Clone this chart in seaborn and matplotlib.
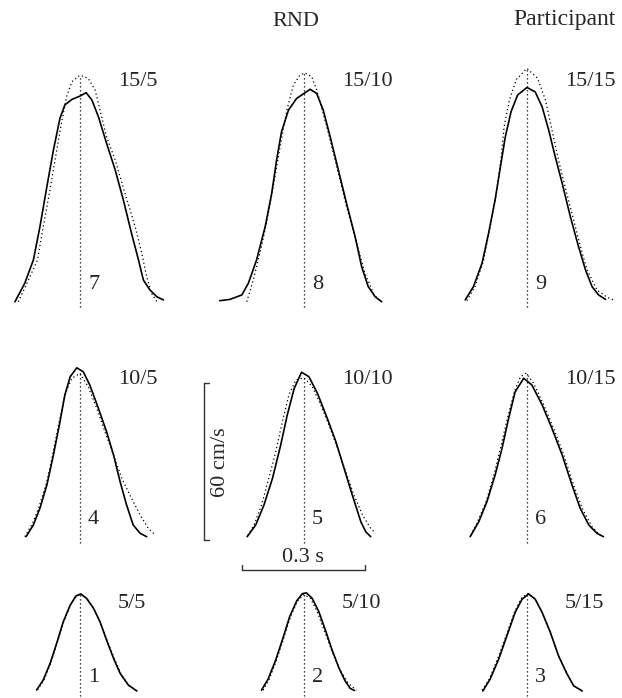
import numpy as np
import pandas as pd
import matplotlib
matplotlib.use("Agg")
import matplotlib.pyplot as plt
import seaborn as sns

# ---------------- data: time (ms, relative to model peak) and speed (cm/s) ----------------
# observed (solid) and model (dotted) velocity profiles, panels 1..9
P1_T_OBS = [-106, -90, -73, -57, -41, -24, -10, 2, 16, 33, 49, 65, 82, 98, 118, 139]
P1_V_OBS = [0.4, 4.2, 10.6, 18.3, 26.5, 32.9, 36.4, 37.2, 35.5, 31.7, 26.5, 19.5, 12.5, 6.8, 2.3, 0.0]
P1_T_MOD = [-104, -88, -72, -56, -40, -23, -8, 3, 18, 34, 50, 67, 84, 100, 120, 138]
P1_V_MOD = [0.4, 4.2, 10.6, 18.3, 26.5, 33.0, 36.5, 37.0, 35.3, 31.5, 26.0, 19.0, 12.5, 6.5, 2.0, 0.2]

P2_T_OBS = [-104, -88, -70, -52, -35, -18, -4, 6, 20, 36, 52, 68, 85, 100, 113, 123]
P2_V_OBS = [0.3, 4.5, 11.5, 20.0, 28.5, 34.5, 37.3, 37.6, 35.5, 30.5, 23.5, 16.0, 9.0, 4.0, 1.0, 0.2]
P2_T_MOD = [-100, -85, -68, -50, -33, -16, 0, 16, 32, 50, 68, 88, 108, 128]
P2_V_MOD = [0.3, 4.5, 11.5, 20.0, 28.5, 34.5, 37.0, 35.5, 30.5, 23.0, 15.5, 8.0, 3.0, 0.3]

P3_T_OBS = [-108, -90, -69, -49, -29, -12, 4, 20, 37, 57, 77, 98, 114, 135]
P3_V_OBS = [0.0, 4.6, 12.3, 21.2, 30.1, 35.2, 37.2, 35.2, 30.1, 22.5, 13.5, 6.5, 2.0, 0.0]
P3_T_MOD = [-110, -92, -72, -51, -31, -14, 2, 20, 37, 57, 77, 98, 114, 135]
P3_V_MOD = [0.3, 4.6, 12.3, 21.2, 30.1, 35.5, 37.4, 35.2, 30.1, 22.5, 13.5, 6.5, 2.0, 0.2]

P4_T_OBS = [-132, -114, -98, -81, -65, -49, -37, -24, -8, 8, 24, 45, 65, 82, 98, 114, 130, 147, 163]
P4_V_OBS = [0.5, 5.0, 11.4, 20.3, 31.8, 44.5, 54.8, 61.8, 65.2, 63.7, 58.6, 49.7, 40.7, 31.8, 21.6, 12.6, 5.0, 1.8, 0.5]
P4_T_MOD = [-135, -116, -100, -81, -67, -51, -37, -20, 0, 20, 41, 61, 82, 102, 126, 147, 167, 184]
P4_V_MOD = [0.5, 5.6, 12.0, 21.6, 31.8, 44.5, 54.8, 61.2, 63.1, 58.0, 49.7, 40.7, 31.8, 22.9, 15.2, 8.8, 3.7, 1.1]

P5_T_OBS = [-139, -118, -98, -77, -57, -41, -24, -6, 12, 33, 57, 78, 98, 118, 139, 151, 163]
P5_V_OBS = [0.5, 5.0, 12.6, 22.9, 35.6, 47.1, 57.3, 63.5, 61.8, 55.4, 45.8, 36.9, 26.7, 16.5, 6.2, 2.4, 0.5]
P5_T_MOD = [-137, -122, -104, -86, -69, -53, -37, -20, 0, 20, 41, 61, 82, 102, 122, 143, 163, 175]
P5_V_MOD = [1.1, 5.0, 12.6, 22.9, 33.1, 44.5, 54.8, 60.5, 61.4, 58.0, 51.0, 43.3, 34.4, 25.4, 16.5, 8.8, 3.7, 1.8]

P6_T_OBS = [-139, -118, -98, -78, -61, -45, -29, -8, 12, 37, 61, 86, 110, 130, 151, 171, 187]
P6_V_OBS = [0.5, 6.2, 13.9, 24.1, 34.4, 45.8, 56.0, 61.2, 58.6, 51.0, 42.0, 31.8, 20.3, 11.4, 5.0, 1.8, 0.5]
P6_T_MOD = [-137, -121, -100, -81, -65, -48, -31, -16, -2, 16, 41, 65, 90, 114, 135, 159, 179]
P6_V_MOD = [1.1, 6.2, 13.9, 24.1, 34.4, 45.8, 56.0, 61.8, 63.1, 59.3, 51.0, 42.0, 31.8, 20.3, 11.4, 4.3, 1.1]

P7_T_OBS = [-159, -135, -114, -98, -81, -65, -49, -37, -20, 0, 15, 29, 45, 65, 86, 106, 126, 143, 155, 171, 188, 204]
P7_V_OBS = [0.1, 7.2, 16.1, 28.8, 44.2, 58.2, 70.4, 75.5, 77.6, 78.9, 80.2, 77.4, 71.0, 60.8, 50.6, 39.1, 26.3, 16.1, 8.4, 4.6, 2.0, 0.8]
P7_T_MOD = [-151, -126, -104, -90, -75, -61, -47, -33, -20, 0, 20, 37, 49, 65, 86, 110, 135, 151, 163, 175, 188]
P7_V_MOD = [0.1, 8.4, 16.1, 28.8, 41.6, 54.4, 67.1, 78.6, 84.4, 86.9, 85.7, 81.2, 73.5, 63.3, 54.4, 41.6, 28.8, 18.7, 9.7, 3.3, 0.1]

P8_T_OBS = [-206, -181, -152, -136, -116, -95, -79, -67, -55, -38, -18, 0, 15, 31, 47, 64, 84, 104, 125, 141, 157, 174, 190]
P8_V_OBS = [0.5, 1.0, 2.7, 7.2, 16.1, 28.8, 41.6, 54.4, 65.2, 73.5, 78.0, 79.9, 81.5, 79.9, 73.5, 63.3, 50.6, 37.8, 25.0, 13.5, 5.9, 2.0, 0.1]
P8_T_MOD = [-140, -124, -104, -87, -71, -57, -42, -26, -10, 2, 19, 31, 47, 64, 84, 104, 129, 149, 170, 182]
P8_V_MOD = [0.1, 8.4, 21.2, 34.0, 48.0, 60.8, 73.5, 83.1, 86.9, 87.8, 86.3, 81.2, 72.3, 62.0, 49.3, 36.5, 22.5, 11.0, 3.3, 0.8]

P9_T_OBS = [-151, -131, -110, -94, -78, -65, -53, -39, -23, 0, 20, 37, 53, 69, 86, 106, 126, 143, 159, 175, 192]
P9_V_OBS = [0.8, 5.9, 14.8, 26.3, 39.1, 51.8, 63.3, 72.9, 79.3, 82.2, 80.5, 74.8, 65.9, 55.7, 45.5, 32.7, 21.2, 12.3, 5.9, 2.7, 1.0]
P9_T_MOD = [-147, -127, -106, -90, -75, -64, -56, -43, -26, 0, 26, 45, 61, 77, 95, 114, 131, 147, 171, 196, 216]
P9_V_MOD = [0.5, 5.9, 16.1, 28.8, 41.6, 54.4, 67.1, 77.4, 85.3, 89.5, 85.7, 77.4, 65.9, 54.4, 43.0, 31.4, 21.0, 12.3, 4.6, 1.8, 0.5]

CONDITION_LABELS = ["5/5", "5/10", "5/15", "10/5", "10/10", "10/15", "15/5", "15/10", "15/15"]
PANEL_NUMBERS = ["1", "2", "3", "4", "5", "6", "7", "8", "9"]
TITLE = "RND"
SUBTITLE = "Participant"
SCALE_V = 60      # cm/s
SCALE_T = 0.3     # s
SCALE_V_LABEL = "60 cm/s"
SCALE_T_LABEL = "0.3 s"

# ---------------- layout (figure pixels) ----------------
W, H = 622, 698
PX_PER_S = 409.0
PX_PER_V = 2.61
COL_CX = [80, 304, 527]          # centre line x of each column
ROW_BASE = [691, 538, 302]       # baseline y of each row (bottom row first)
LABEL_Y = [603, 380, 81]
NUM_Y = [678, 520, 284]
DOT = (0, (1, 2.2))

obs_t = [P1_T_OBS, P2_T_OBS, P3_T_OBS, P4_T_OBS, P5_T_OBS, P6_T_OBS, P7_T_OBS, P8_T_OBS, P9_T_OBS]
obs_v = [P1_V_OBS, P2_V_OBS, P3_V_OBS, P4_V_OBS, P5_V_OBS, P6_V_OBS, P7_V_OBS, P8_V_OBS, P9_V_OBS]
mod_t = [P1_T_MOD, P2_T_MOD, P3_T_MOD, P4_T_MOD, P5_T_MOD, P6_T_MOD, P7_T_MOD, P8_T_MOD, P9_T_MOD]
mod_v = [P1_V_MOD, P2_V_MOD, P3_V_MOD, P4_V_MOD, P5_V_MOD, P6_V_MOD, P7_V_MOD, P8_V_MOD, P9_V_MOD]

sns.set_theme(style="white")
plt.rcParams["font.family"] = ["Liberation Serif", "DejaVu Serif"]

fig = plt.figure(figsize=(W / 100, H / 100), dpi=100)
ax = fig.add_axes([0, 0, 1, 1])
# axis in physical units: seconds horizontally, cm/s vertically
ax.set_xlim(0, W / PX_PER_S)
ax.set_ylim(0, H / PX_PER_V)
ax.axis("off")


def origin(i):
    r, c = divmod(i, 3)
    return COL_CX[c] / PX_PER_S, (H - ROW_BASE[r]) / PX_PER_V


rows = []
for i in range(9):
    ox, oy = origin(i)
    for t, v in zip(obs_t[i], obs_v[i]):
        rows.append(dict(X=ox + t / 1000.0, Y=oy + v, curve=f"o{i}", kind="obs"))
    for t, v in zip(mod_t[i], mod_v[i]):
        rows.append(dict(X=ox + t / 1000.0, Y=oy + v, curve=f"m{i}", kind="model"))
df = pd.DataFrame(rows)

sns.lineplot(data=df[df.kind == "model"], x="X", y="Y", units="curve", estimator=None,
             sort=False, color="black", linewidth=0.9, linestyle=DOT, ax=ax, legend=False)
sns.lineplot(data=df[df.kind == "obs"], x="X", y="Y", units="curve", estimator=None,
             sort=False, color="black", linewidth=1.2, ax=ax, legend=False)

# centre lines (dotted) from below the baseline up to the model peak
for i in range(9):
    ox, oy = origin(i)
    ax.vlines(ox, oy - 5 / PX_PER_V, oy + max(mod_v[i]), colors="black",
              linewidth=0.9, linestyles=[DOT])

FS = 16
for i in range(9):
    r, c = divmod(i, 3)
    fig.text((COL_CX[c] + 38) / W, 1 - LABEL_Y[r] / H, CONDITION_LABELS[i],
             fontsize=FS, ha="left", va="center")
    fig.text((COL_CX[c] + 8) / W, 1 - NUM_Y[r] / H, PANEL_NUMBERS[i],
             fontsize=FS, ha="left", va="center")

fig.text(296 / W, 1 - 22 / H, TITLE, fontsize=FS, ha="center", va="center")
fig.text(513 / W, 1 - 20 / H, SUBTITLE, fontsize=17, ha="left", va="center")

# scale bars
gray = "#333333"
vx = 204 / PX_PER_S
vy0 = (H - 540) / PX_PER_V
ax.plot([vx, vx], [vy0, vy0 + SCALE_V], color=gray, lw=1.0)
tk = 5 / PX_PER_S
ax.plot([vx, vx + tk], [vy0, vy0], color=gray, lw=1.0)
ax.plot([vx, vx + tk], [vy0 + SCALE_V, vy0 + SCALE_V], color=gray, lw=1.0)
ax.text(vx + 16 / PX_PER_S, vy0 + SCALE_V / 2, SCALE_V_LABEL, rotation=90,
        fontsize=FS, ha="center", va="center")

hx0 = 242 / PX_PER_S
hy = (H - 570) / PX_PER_V
ax.plot([hx0, hx0 + SCALE_T], [hy, hy], color=gray, lw=1.0)
tv = 5 / PX_PER_V
ax.plot([hx0, hx0], [hy, hy + tv], color=gray, lw=1.0)
ax.plot([hx0 + SCALE_T, hx0 + SCALE_T], [hy, hy + tv], color=gray, lw=1.0)
ax.text(hx0 + SCALE_T / 2, hy + 13 / PX_PER_V, SCALE_T_LABEL, fontsize=FS,
        ha="center", va="center")

fig.savefig("out.png", dpi=100)
